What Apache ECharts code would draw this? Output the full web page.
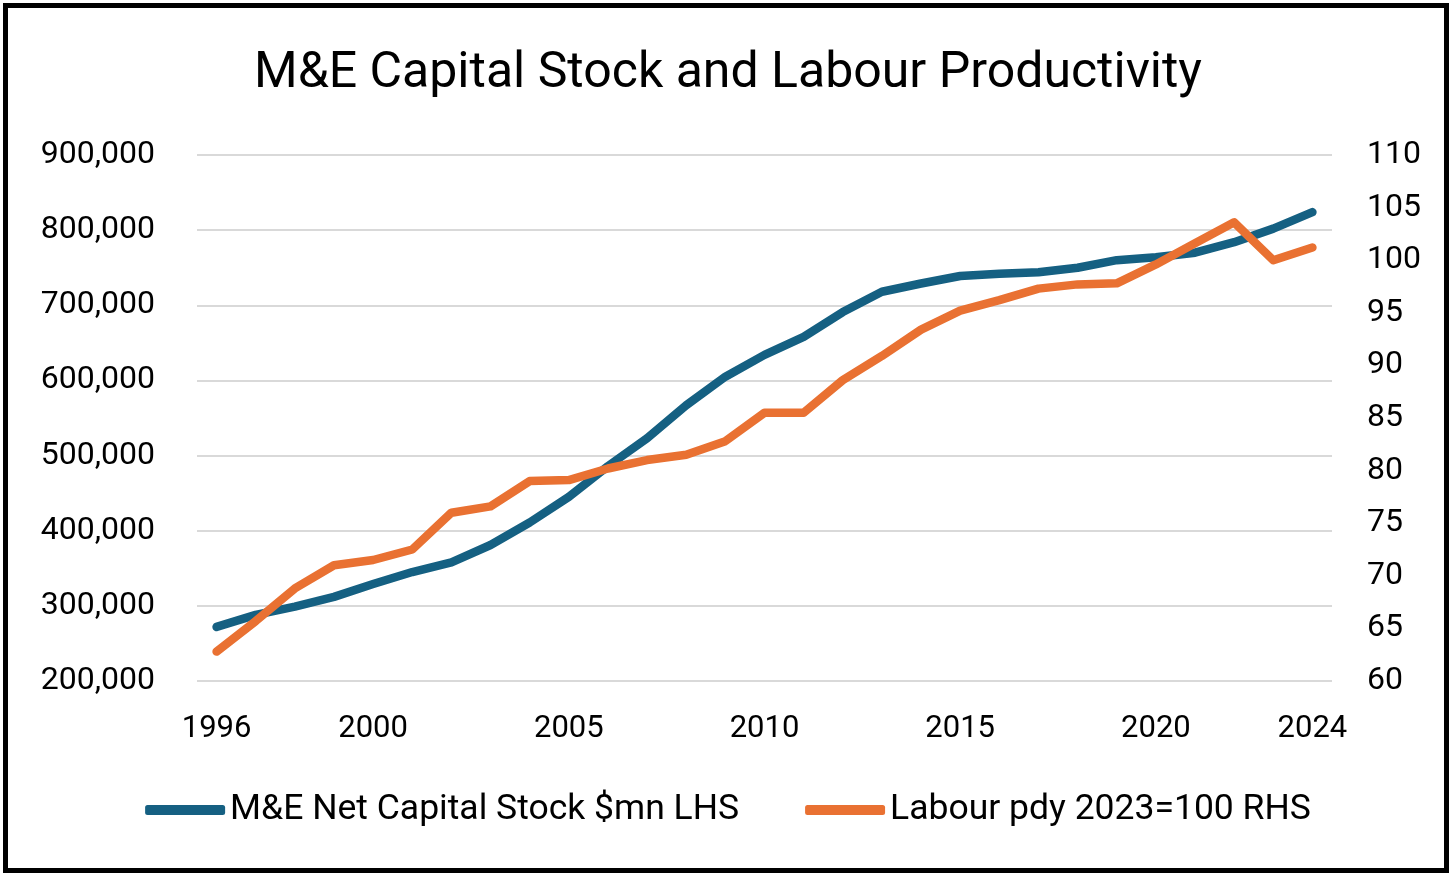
<!DOCTYPE html>
<html>
<head>
<meta charset="utf-8">
<script src="https://cdn.jsdelivr.net/npm/echarts@6/dist/echarts.min.js"></script>
<style>
html,body{margin:0;padding:0;background:#fff;}
#frame{position:absolute;left:3px;top:3px;width:1436px;height:860px;border:5px solid #000;background:#fff;}
#chart{position:absolute;left:0;top:0;width:1456px;height:880px;}
</style>
</head>
<body>
<div id="frame"></div>
<div id="chart"></div>
<script>
const titleText = "M&E Capital Stock and Labour Productivity";
const years = ["1996","1997","1998","1999","2000","2001","2002","2003","2004","2005","2006","2007","2008","2009","2010","2011","2012","2013","2014","2015","2016","2017","2018","2019","2020","2021","2022","2023","2024"];
const xLabelYears = ["1996","2000","2005","2010","2015","2020","2024"];
const capitalName = "M&E Net Capital Stock $mn LHS";
const capitalStock = [272000,288000,299000,312000,329000,345000,358000,381000,411000,445000,486000,523000,567000,605000,634000,658000,691000,718000,729000,739000,742000,744000,750000,760000,764000,770000,784000,802000,824000];
const labourName = "Labour pdy 2023=100 RHS";
const labourPdy = [62.8,65.7,68.8,71.0,71.5,72.5,76.0,76.6,79.0,79.1,80.2,81.0,81.5,82.8,85.5,85.5,88.6,90.9,93.4,95.2,96.2,97.3,97.7,97.8,99.6,101.6,103.6,100.0,101.2];

const FONT = 'Roboto';
const chart = echarts.init(document.getElementById('chart'), null, {renderer:'canvas'});
chart.setOption({
  backgroundColor: 'transparent',
  animation: false,
  title: {
    text: titleText, left: 'center', top: 44,
    textStyle: {fontFamily: FONT, fontSize: 50, fontWeight: 'normal', color: '#000'}
  },
  legend: {
    bottom: 47, left: 'center', itemGap: 66,
    itemWidth: 80, itemHeight: 10, icon: 'roundRect',
    textStyle: {fontFamily: FONT, fontSize: 35.5, color: '#000'},
    data: [capitalName, labourName]
  },
  grid: {left: 197, right: 124, top: 155, bottom: 199, containLabel: false},
  xAxis: {
    type: 'category', data: years, boundaryGap: true,
    axisLine: {show: false}, axisTick: {show: false},
    axisLabel: {
      interval: function(i, v){ return xLabelYears.indexOf(v) >= 0; },
      margin: 33, fontFamily: FONT, fontSize: 31, color: '#000'
    }
  },
  yAxis: [
    {type: 'value', min: 200000, max: 900000, interval: 100000,
     axisLine: {show:false}, axisTick: {show:false},
     splitLine: {lineStyle: {color: '#d9d9d9', width: 2}},
     axisLabel: {margin: 42, fontFamily: FONT, fontSize: 32, color: '#000',
       formatter: v => v.toLocaleString('en-US')}},
    {type: 'value', min: 60, max: 110, interval: 5,
     axisLine: {show:false}, axisTick: {show:false},
     splitLine: {show: false},
     axisLabel: {margin: 35, fontFamily: FONT, fontSize: 32, color: '#000'}}
  ],
  series: [
    {name: capitalName, type: 'line', data: capitalStock, yAxisIndex: 0,
     showSymbol: false, symbol: 'none', color: '#156082',
     lineStyle: {width: 8.5, color: '#156082', cap: 'round', join: 'round'}},
    {name: labourName, type: 'line', data: labourPdy, yAxisIndex: 1,
     showSymbol: false, symbol: 'none', color: '#E97132',
     lineStyle: {width: 8.5, color: '#E97132', cap: 'round', join: 'round'}}
  ]
});
</script>
</body>
</html>
